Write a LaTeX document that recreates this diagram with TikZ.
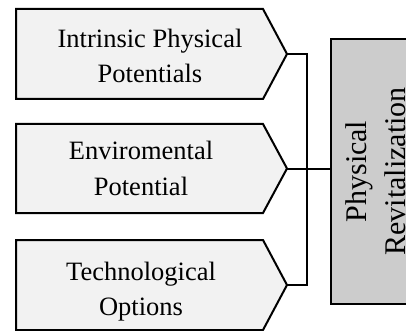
\documentclass[tikz,border=0pt]{standalone}
\usepackage{fontspec}
\setmainfont{Liberation Serif}
\definecolor{boxfill}{HTML}{F2F2F2}
\definecolor{grayfill}{HTML}{CCCCCC}
\begin{document}
\begin{tikzpicture}[x=1pt,y=-1pt,
  pentbox/.style={draw=black,line width=2pt,fill=boxfill,line join=miter},
  lbl/.style={font=\fontsize{26.5}{35.5}\selectfont,align=center,inner sep=0pt},
  con/.style={draw=black,line width=2pt},
  graybox/.style={draw=black,line width=2pt,fill=grayfill,rotate=90,
    minimum width=265pt,minimum height=90pt,inner sep=0pt,align=center,
    font=\fontsize{30}{39}\selectfont}]
\useasboundingbox (0,0) rectangle (406,331);
\clip (0,0) rectangle (406,331);
% arrow-shaped boxes
\path[pentbox] (16,9) -- (263,9) -- (287,54) -- (263,99) -- (16,99) -- cycle;
\path[pentbox] (16,124) -- (263,124) -- (287,168.5) -- (263,213) -- (16,213) -- cycle;
\path[pentbox] (16,240) -- (263,240) -- (287,285) -- (263,330) -- (16,330) -- cycle;
\coordinate (t1) at (287,54);
\coordinate (t2) at (287,168.5);
\coordinate (t3) at (287,285);
\node[lbl] (b1) at (150,56) {Intrinsic Physical\\Potentials};
\node[lbl] (b2) at (141,168.5) {Enviromental\\Potential};
\node[lbl] (b3) at (141,291.8) {Technological\\Options};
% target box
\node[graybox] (gb) at (376,171.5) {Physical\\Revitalization};
% connectors
\coordinate (j1) at (307,54);
\draw[con] (t1) -- (j1) |- (t3);
\draw[con] (t2) -- (t2 -| gb.north);
\end{tikzpicture}
\end{document}
